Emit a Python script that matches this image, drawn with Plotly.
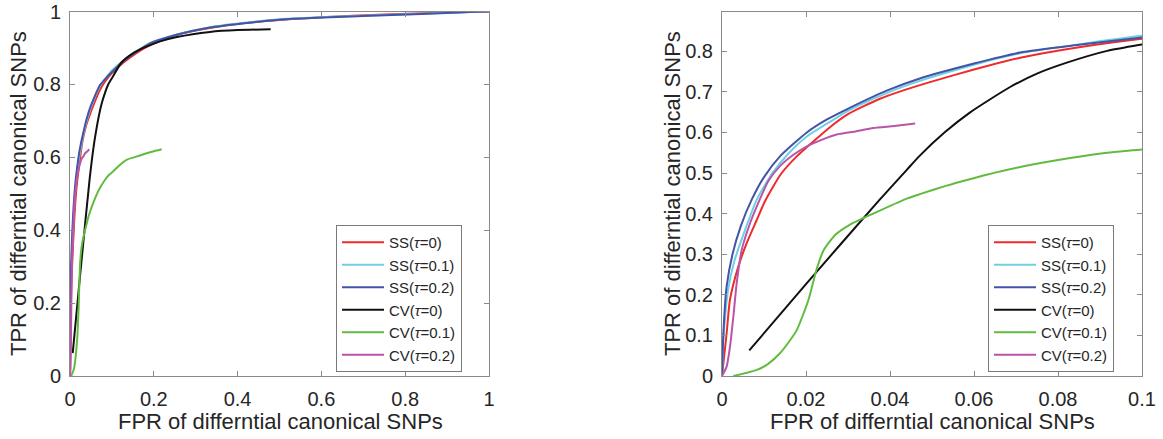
import plotly.graph_objects as go

W, H = 1163, 439

# ---------------- data ----------------
names = ["SS(<i>τ</i>=0)", "SS(<i>τ</i>=0.1)", "SS(<i>τ</i>=0.2)",
         "CV(<i>τ</i>=0)", "CV(<i>τ</i>=0.1)", "CV(<i>τ</i>=0.2)"]
colors = ["#f02a2a", "#6fd0e2", "#4353a8", "#111111", "#62bb40", "#b855a8"]

ss0_x = [0, .0011, .0019, .0039, .0059, .0083, .0102, .0140, .0178, .0220, .0257, .0300,
         .0376, .0430, .0495, .0600, .0710, .0850, .1000, .130, .180, .250, .334, .45,
         .60, .75, .90, 1.0]
ss0_y = [0, .105, .188, .270, .328, .385, .430, .497, .541, .580, .613, .645,
         .683, .703, .724, .755, .784, .810, .831, .862, .901, .935, .955, .972,
         .984, .992, .997, 1.0]

ss1_x = [0, .0004, .0015, .0030, .0055, .0083, .0120, .0160, .0202, .0260, .0300, .0392,
         .0471, .0600, .0710, .0850, .1000, .130, .190, .255, .334, .493, .716, .97, 1.0]
ss1_y = [0, .100, .215, .285, .360, .435, .500, .550, .590, .628, .653, .697,
         .727, .767, .795, .817, .838, .868, .913, .937, .957, .978, .989, .999, 1.0]

ss2_x = [0, .0003, .0011, .0025, .0045, .0071, .0100, .0138, .0202, .0250, .0297, .0392,
         .0471, .0600, .0710, .0850, .1000, .130, .190, .255, .334, .493, .716, .97, 1.0]
ss2_y = [0, .100, .220, .300, .370, .435, .490, .541, .600, .632, .657, .703,
         .733, .770, .797, .816, .834, .866, .912, .936, .956, .977, .988, .999, 1.0]

cv0_x = [.0065, .0202, .0376, .0440, .0471, .0531, .0590, .0686, .0750, .0821, .0917, .1000,
         .123, .150, .175, .215, .255, .334, .400, .479]
cv0_y = [.063, .229, .435, .508, .543, .601, .649, .712, .745, .772, .801, .817,
         .860, .885, .900, .918, .930, .944, .949, .951]

cv1_x = [.0027, .0083, .0110, .0138, .0160, .0178, .0206, .0225, .0242, .0270, .0305, .0360,
         .0440, .0471, .0535, .0583, .0630, .0710, .0829, .0917, .1000, .115, .135, .167,
         .195, .219]
cv1_y = [0, .015, .030, .056, .085, .113, .188, .262, .310, .348, .373, .400,
         .437, .448, .469, .483, .496, .515, .537, .550, .558, .575, .593, .605,
         .615, .622]

cv2_x = [0, .0011, .0019, .0027, .0035, .0047, .0067, .0090, .0110, .0138, .0170, .0202,
         .0240, .0273, .0320, .0360, .0410, .0460]
cv2_y = [0, .023, .072, .146, .229, .311, .377, .435, .480, .517, .545, .566,
         .583, .595, .603, .611, .616, .622]

series_x = [ss0_x, ss1_x, ss2_x, cv0_x, cv1_x, cv2_x]
series_y = [ss0_y, ss1_y, ss2_y, cv0_y, cv1_y, cv2_y]

left_xticks = [0, 0.2, 0.4, 0.6, 0.8, 1]
left_xtext = ["0", "0.2", "0.4", "0.6", "0.8", "1"]
left_yticks = [0, 0.2, 0.4, 0.6, 0.8, 1]
left_ytext = ["0", "0.2", "0.4", "0.6", "0.8", "1"]
right_xticks = [0, 0.02, 0.04, 0.06, 0.08, 0.1]
right_xtext = ["0", "0.02", "0.04", "0.06", "0.08", "0.1"]
right_yticks = [0, .1, .2, .3, .4, .5, .6, .7, .8]
right_ytext = ["0", "0.1", "0.2", "0.3", "0.4", "0.5", "0.6", "0.7", "0.8"]

xtitle = "FPR of differntial canonical SNPs"
ytitle = "TPR of differntial canonical SNPs"

# ---------------- figure ----------------
FONT = "Liberation Sans, Arial, Helvetica, sans-serif"
AXC = "#8a8a8a"
TXT = "#262626"


def px(x):
    return x / W


def py(y):
    return 1 - y / H


fig = go.Figure()
for xs, ys, nm, c in zip(series_x, series_y, names, colors):
    fig.add_trace(go.Scatter(x=xs, y=ys, mode="lines", name=nm,
                             line=dict(color=c, width=2, shape="spline", smoothing=0.6),
                             xaxis="x", yaxis="y", legend="legend"))
for xs, ys, nm, c in zip(series_x, series_y, names, colors):
    fig.add_trace(go.Scatter(x=xs, y=ys, mode="lines", name=nm,
                             line=dict(color=c, width=2, shape="spline", smoothing=0.6),
                             xaxis="x2", yaxis="y2", legend="legend2"))

ax_common = dict(showgrid=False, zeroline=False, showline=True, linecolor=AXC,
                 linewidth=1, ticks="inside", ticklen=5, tickcolor=AXC,
                 mirror="ticks", automargin=False,
                 tickfont=dict(size=20, color=TXT, family=FONT))

ydom = [py(376), py(11.5)]
leg_common = dict(xanchor="left", yanchor="top", bgcolor="white",
                  bordercolor="#7a7a7a", borderwidth=1,
                  font=dict(size=15, color=TXT, family=FONT),
                  tracegroupgap=0, itemwidth=42,
                  entrywidth=96, entrywidthmode="pixels")
fig.update_layout(
    width=W, height=H,
    margin=dict(l=0, r=0, t=0, b=0, autoexpand=False),
    paper_bgcolor="white", plot_bgcolor="white",
    font=dict(family=FONT, color=TXT),
    xaxis=dict(domain=[px(70), px(489)], range=[0, 1], tickvals=left_xticks,
               ticktext=left_xtext, anchor="y", ticklabelstandoff=5, **ax_common),
    yaxis=dict(domain=ydom, range=[0, 1], tickvals=left_yticks,
               ticktext=left_ytext, anchor="x", ticklabelstandoff=4, **ax_common),
    xaxis2=dict(domain=[px(722), px(1142)], range=[0, 0.1], tickvals=right_xticks,
                ticktext=right_xtext, anchor="y2", ticklabelstandoff=5, **ax_common),
    yaxis2=dict(domain=ydom, range=[0, 0.898], tickvals=right_yticks,
                ticktext=right_ytext, anchor="x2", ticklabelstandoff=4, **ax_common),
    legend=dict(x=px(336), y=py(225), **leg_common),
    legend2=dict(x=px(988), y=py(225), **leg_common),
    showlegend=True,
)

ann = [
    dict(x=px(280), y=py(421), text=xtitle, textangle=0),
    dict(x=px(932), y=py(421), text=xtitle, textangle=0),
    dict(x=px(18), y=py(194), text=ytitle, textangle=-90),
    dict(x=px(672), y=py(194), text=ytitle, textangle=-90),
]
for a in ann:
    fig.add_annotation(xref="paper", yref="paper", showarrow=False,
                       xanchor="center", yanchor="middle",
                       font=dict(size=22, color=TXT, family=FONT), **a)

fig.write_html("out.html", config={"displayModeBar": False},
               post_script="document.body.style.margin='0px';")
